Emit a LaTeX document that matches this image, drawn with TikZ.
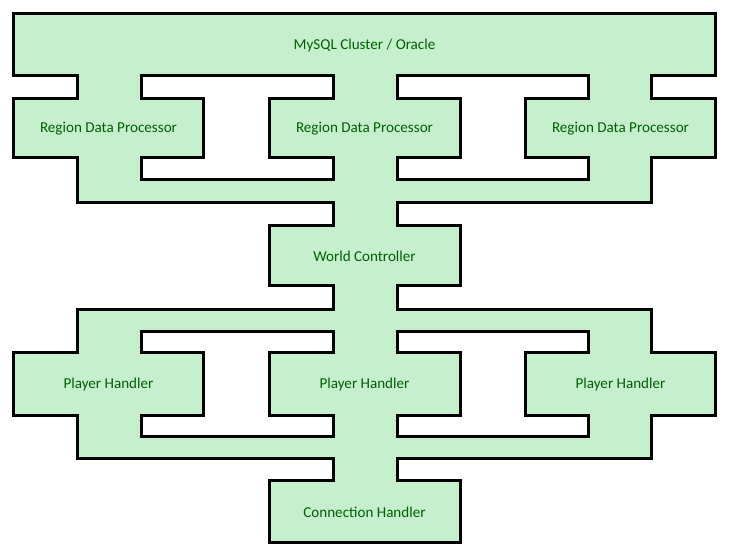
\documentclass[tikz,border=0pt]{standalone}
\usepackage{fontspec}
\setmainfont{Carlito}
\definecolor{goodfill}{HTML}{C6EFCE}
\definecolor{goodtext}{HTML}{006100}
\begin{document}
\begin{tikzpicture}[x=1pt,y=-1pt,
  outline/.style={draw=black,line width=3pt,fill=goodfill,even odd rule,line join=miter},
  lbl/.style={text=goodtext,font=\fontsize{15.1}{17}\selectfont,inner sep=0pt}]
\useasboundingbox (0,0) rectangle (729,555);
% x grid: 13.5 77.5 141 203.5 269 333 397 460 525.5 588 651.5 715.5
% y grid: 13.5 75.5 98 157 179 202 225 285.5 309 331.5 352.5 415 436 458 480.5 542
\path[outline]
  % outer boundary
  (13.5,13.5) -- (715.5,13.5) -- (715.5,75.5) -- (651.5,75.5) -- (651.5,98) -- (715.5,98)
  -- (715.5,157) -- (651.5,157) -- (651.5,202) -- (397,202) -- (397,225) -- (460,225)
  -- (460,285.5) -- (397,285.5) -- (397,309) -- (651.5,309) -- (651.5,352.5) -- (715.5,352.5)
  -- (715.5,415) -- (651.5,415) -- (651.5,458) -- (397,458) -- (397,480.5) -- (460,480.5)
  -- (460,542) -- (269,542) -- (269,480.5) -- (333,480.5) -- (333,458) -- (77.5,458)
  -- (77.5,415) -- (13.5,415) -- (13.5,352.5) -- (77.5,352.5) -- (77.5,309) -- (333,309)
  -- (333,285.5) -- (269,285.5) -- (269,225) -- (333,225) -- (333,202) -- (77.5,202)
  -- (77.5,157) -- (13.5,157) -- (13.5,98) -- (77.5,98) -- (77.5,75.5) -- (13.5,75.5) -- cycle
  % top-left hole
  (141,75.5) -- (333,75.5) -- (333,98) -- (269,98) -- (269,157) -- (333,157) -- (333,179)
  -- (141,179) -- (141,157) -- (203.5,157) -- (203.5,98) -- (141,98) -- cycle
  % top-right hole
  (397,75.5) -- (588,75.5) -- (588,98) -- (525.5,98) -- (525.5,157) -- (588,157) -- (588,179)
  -- (397,179) -- (397,157) -- (460,157) -- (460,98) -- (397,98) -- cycle
  % bottom-left hole
  (141,331.5) -- (333,331.5) -- (333,352.5) -- (269,352.5) -- (269,415) -- (333,415) -- (333,436)
  -- (141,436) -- (141,415) -- (203.5,415) -- (203.5,352.5) -- (141,352.5) -- cycle
  % bottom-right hole
  (397,331.5) -- (588,331.5) -- (588,352.5) -- (525.5,352.5) -- (525.5,415) -- (588,415) -- (588,436)
  -- (397,436) -- (397,415) -- (460,415) -- (460,352.5) -- (397,352.5) -- cycle;
\node[lbl] (db) at (364.5,45) {MySQL Cluster / Oracle};
\node[lbl] (rdp1) at (108.5,128.5) {Region Data Processor};
\node[lbl] (rdp2) at (364.5,128.5) {Region Data Processor};
\node[lbl] (rdp3) at (620.5,128.5) {Region Data Processor};
\node[lbl] (wc) at (364.5,256) {World Controller};
\node[lbl] (ph1) at (108.5,384.5) {Player Handler};
\node[lbl] (ph2) at (364.5,384.5) {Player Handler};
\node[lbl] (ph3) at (620.5,384.5) {Player Handler};
\node[lbl] (ch) at (364.5,512) {Connection Handler};
\end{tikzpicture}
\end{document}
